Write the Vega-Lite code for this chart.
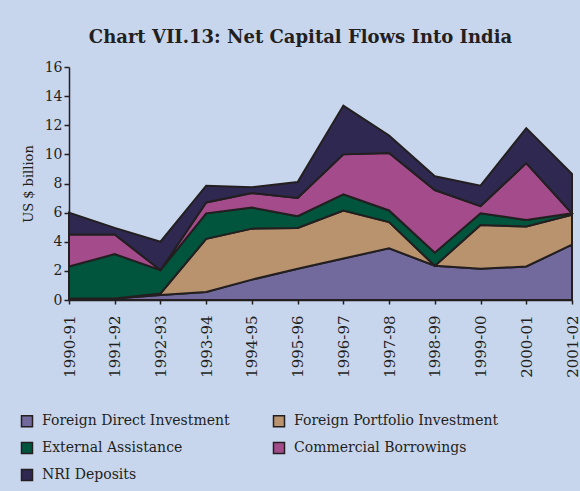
{
  "$schema": "https://vega.github.io/schema/vega-lite/v6.json",
  "width": 503,
  "height": 233,
  "autosize": {"type": "none"},
  "padding": {"left": 69, "top": 67, "right": 8, "bottom": 191},
  "background": "#c8d6ed",
  "title": {
    "text": "Chart VII.13: Net Capital Flows Into India",
    "font": "DejaVu Serif",
    "fontSize": 18,
    "fontWeight": "bold",
    "color": "#231f20",
    "anchor": "middle",
    "dx": -20,
    "offset": 13
  },
  "config": {
    "view": {"stroke": null},
    "font": "DejaVu Serif"
  },
  "datasets": {
    "seriesOrder": [
      {"series": "Foreign Direct Investment", "rank": 1},
      {"series": "Foreign Portfolio Investment", "rank": 2},
      {"series": "External Assistance", "rank": 3},
      {"series": "Commercial Borrowings", "rank": 4},
      {"series": "NRI Deposits", "rank": 5}
    ],
    "flows": [
      {"year": "1990-91", "series": "Foreign Direct Investment", "value": 0.1},
      {"year": "1990-91", "series": "Foreign Portfolio Investment", "value": 0.0},
      {"year": "1990-91", "series": "External Assistance", "value": 2.2},
      {"year": "1990-91", "series": "Commercial Borrowings", "value": 2.2},
      {"year": "1990-91", "series": "NRI Deposits", "value": 1.5},
      {"year": "1991-92", "series": "Foreign Direct Investment", "value": 0.1},
      {"year": "1991-92", "series": "Foreign Portfolio Investment", "value": 0.0},
      {"year": "1991-92", "series": "External Assistance", "value": 3.05},
      {"year": "1991-92", "series": "Commercial Borrowings", "value": 1.35},
      {"year": "1991-92", "series": "NRI Deposits", "value": 0.45},
      {"year": "1992-93", "series": "Foreign Direct Investment", "value": 0.35},
      {"year": "1992-93", "series": "Foreign Portfolio Investment", "value": 0.1},
      {"year": "1992-93", "series": "External Assistance", "value": 1.6},
      {"year": "1992-93", "series": "Commercial Borrowings", "value": 0.0},
      {"year": "1992-93", "series": "NRI Deposits", "value": 1.95},
      {"year": "1993-94", "series": "Foreign Direct Investment", "value": 0.55},
      {"year": "1993-94", "series": "Foreign Portfolio Investment", "value": 3.65},
      {"year": "1993-94", "series": "External Assistance", "value": 1.75},
      {"year": "1993-94", "series": "Commercial Borrowings", "value": 0.75},
      {"year": "1993-94", "series": "NRI Deposits", "value": 1.15},
      {"year": "1994-95", "series": "Foreign Direct Investment", "value": 1.4},
      {"year": "1994-95", "series": "Foreign Portfolio Investment", "value": 3.5},
      {"year": "1994-95", "series": "External Assistance", "value": 1.45},
      {"year": "1994-95", "series": "Commercial Borrowings", "value": 1.0},
      {"year": "1994-95", "series": "NRI Deposits", "value": 0.4},
      {"year": "1995-96", "series": "Foreign Direct Investment", "value": 2.15},
      {"year": "1995-96", "series": "Foreign Portfolio Investment", "value": 2.8},
      {"year": "1995-96", "series": "External Assistance", "value": 0.8},
      {"year": "1995-96", "series": "Commercial Borrowings", "value": 1.25},
      {"year": "1995-96", "series": "NRI Deposits", "value": 1.1},
      {"year": "1996-97", "series": "Foreign Direct Investment", "value": 2.85},
      {"year": "1996-97", "series": "Foreign Portfolio Investment", "value": 3.3},
      {"year": "1996-97", "series": "External Assistance", "value": 1.1},
      {"year": "1996-97", "series": "Commercial Borrowings", "value": 2.75},
      {"year": "1996-97", "series": "NRI Deposits", "value": 3.35},
      {"year": "1997-98", "series": "Foreign Direct Investment", "value": 3.55},
      {"year": "1997-98", "series": "Foreign Portfolio Investment", "value": 1.8},
      {"year": "1997-98", "series": "External Assistance", "value": 0.8},
      {"year": "1997-98", "series": "Commercial Borrowings", "value": 3.95},
      {"year": "1997-98", "series": "NRI Deposits", "value": 1.2},
      {"year": "1998-99", "series": "Foreign Direct Investment", "value": 2.35},
      {"year": "1998-99", "series": "Foreign Portfolio Investment", "value": 0.0},
      {"year": "1998-99", "series": "External Assistance", "value": 0.9},
      {"year": "1998-99", "series": "Commercial Borrowings", "value": 4.3},
      {"year": "1998-99", "series": "NRI Deposits", "value": 0.95},
      {"year": "1999-00", "series": "Foreign Direct Investment", "value": 2.15},
      {"year": "1999-00", "series": "Foreign Portfolio Investment", "value": 3.0},
      {"year": "1999-00", "series": "External Assistance", "value": 0.8},
      {"year": "1999-00", "series": "Commercial Borrowings", "value": 0.5},
      {"year": "1999-00", "series": "NRI Deposits", "value": 1.4},
      {"year": "2000-01", "series": "Foreign Direct Investment", "value": 2.3},
      {"year": "2000-01", "series": "Foreign Portfolio Investment", "value": 2.75},
      {"year": "2000-01", "series": "External Assistance", "value": 0.45},
      {"year": "2000-01", "series": "Commercial Borrowings", "value": 3.9},
      {"year": "2000-01", "series": "NRI Deposits", "value": 2.4},
      {"year": "2001-02", "series": "Foreign Direct Investment", "value": 3.8},
      {"year": "2001-02", "series": "Foreign Portfolio Investment", "value": 2.05},
      {"year": "2001-02", "series": "External Assistance", "value": 0.1},
      {"year": "2001-02", "series": "Commercial Borrowings", "value": 0.0},
      {"year": "2001-02", "series": "NRI Deposits", "value": 2.7}
    ]
  },
  "data": {"name": "flows"},
  "transform": [
    {"lookup": "series", "from": {"data": {"name": "seriesOrder"}, "key": "series", "fields": ["rank"]}}
  ],
  "mark": {"type": "area", "stroke": "#231f20", "strokeWidth": 2, "strokeJoin": "miter", "opacity": 1, "fillOpacity": 1},
  "encoding": {
    "x": {
      "field": "year",
      "type": "ordinal",
      "scale": {"type": "point", "padding": 0},
      "axis": {
        "title": null,
        "labelAngle": -90,
        "labelAlign": "right",
        "labelBaseline": "middle",
        "labelFont": "DejaVu Serif",
        "labelFontSize": 15,
        "labelColor": "#231f20",
        "labelPadding": 11,
        "tickSize": 4,
        "tickColor": "#231f20",
        "tickWidth": 1.5,
        "domainColor": "#231f20",
        "domainWidth": 1.5,
        "grid": false
      }
    },
    "y": {
      "field": "value",
      "type": "quantitative",
      "stack": "zero",
      "scale": {"domain": [0, 16], "nice": false},
      "axis": {
        "title": "US $ billion",
        "titleFont": "DejaVu Serif",
        "titleFontSize": 13,
        "titleFontWeight": "normal",
        "titleColor": "#231f20",
        "titlePadding": 9,
        "values": [0, 2, 4, 6, 8, 10, 12, 14, 16],
        "labelFont": "DejaVu Serif",
        "labelFontSize": 14,
        "labelColor": "#231f20",
        "labelPadding": 2,
        "tickSize": 5,
        "tickColor": "#231f20",
        "tickWidth": 1.5,
        "domainColor": "#231f20",
        "domainWidth": 1.5,
        "grid": false
      }
    },
    "color": {
      "field": "series",
      "type": "nominal",
      "scale": {
        "domain": ["Foreign Direct Investment", "Foreign Portfolio Investment", "External Assistance", "Commercial Borrowings", "NRI Deposits"],
        "range": ["#726a9d", "#b9926e", "#00553c", "#a34b8b", "#2f2952"]
      },
      "legend": {
        "title": null,
        "orient": "none",
        "direction": "horizontal",
        "legendX": -49,
        "legendY": 347,
        "columns": 2,
        "columnPadding": 40,
        "rowPadding": 9,
        "symbolType": "square",
        "symbolSize": 121,
        "symbolStrokeColor": "#231f20",
        "symbolStrokeWidth": 1.5,
        "symbolOpacity": 1,
        "labelFont": "DejaVu Serif",
        "labelFontSize": 14,
        "labelColor": "#231f20",
        "labelOffset": 8,
        "labelLimit": 300
      }
    },
    "order": {"field": "rank", "type": "quantitative", "sort": "ascending"}
  }
}
